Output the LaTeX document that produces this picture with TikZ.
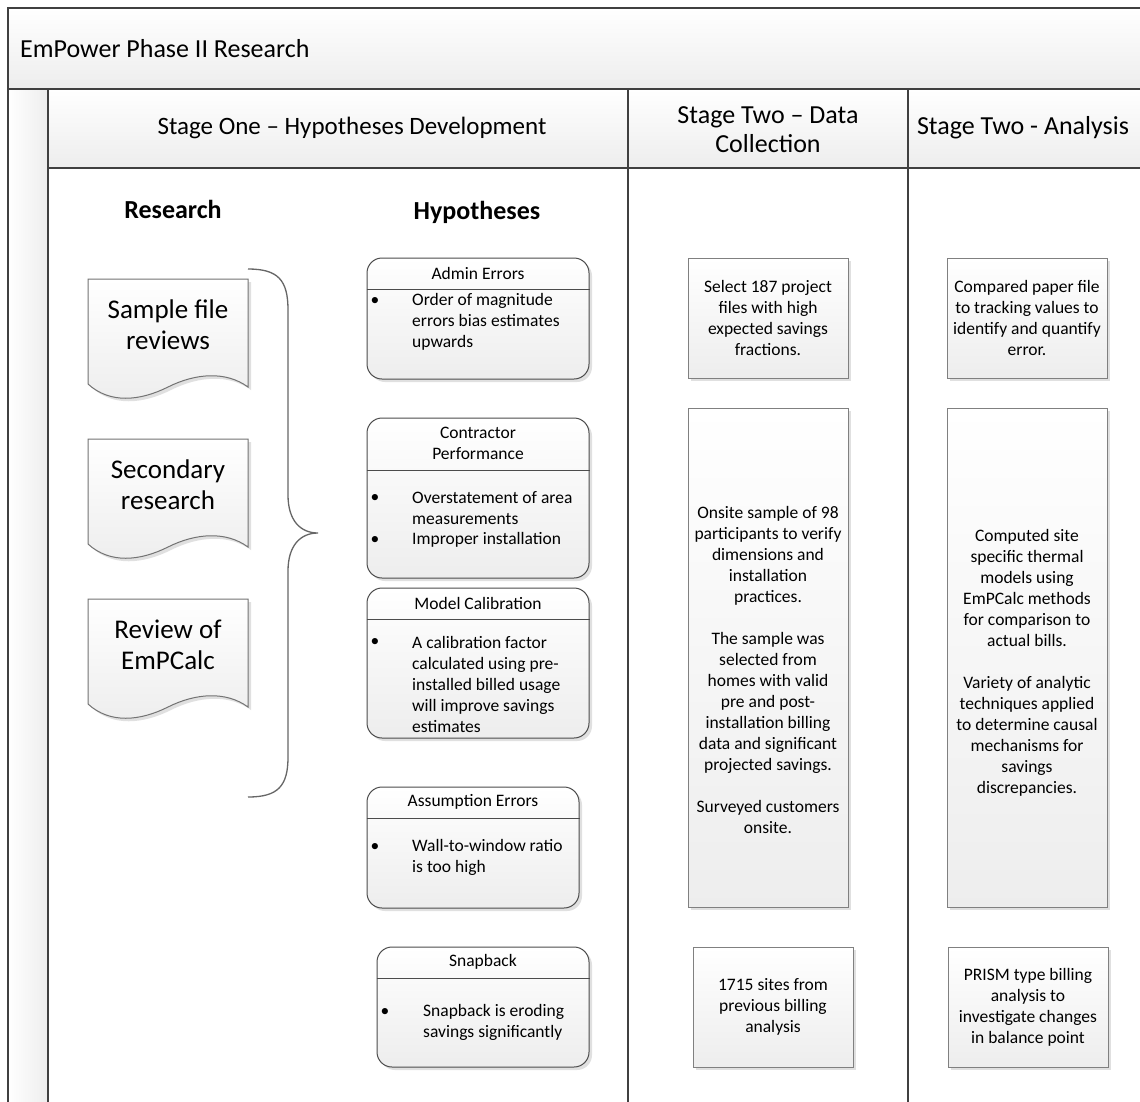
\documentclass[tikz,border=0pt]{standalone}
\usepackage{fontspec}
\setmainfont{Carlito}
\usetikzlibrary{shadows}

\tikzset{
  lane/.style={draw=black!75, line width=2pt},
  band/.style={top color=white, bottom color=gray!14},
  txt/.style={font=\fontsize{17.5}{21}\selectfont, inner sep=0pt, align=center},
  head/.style={font=\fontsize{26}{29}\selectfont, inner sep=0pt, align=center},
  doctxt/.style={font=\fontsize{27}{31}\selectfont, inner sep=0pt, align=center},
  colhead/.style={font=\fontsize{26}{30}\selectfont\bfseries, inner sep=0pt},
  stagebox/.style={draw=black!50, line width=1pt, top color=white, bottom color=gray!14,
    drop shadow={shadow xshift=3pt, shadow yshift=-3pt, fill=black!30, opacity=0.4}},
  hypbox/.style={stagebox, draw=black!70, rounded corners=15pt},
  docbox/.style={stagebox, draw=black!55},
  sep/.style={draw=black!70, line width=1pt},
  curly/.style={draw=black!60, line width=1.3pt},
}

\begin{document}
\begin{tikzpicture}[x=1pt, y=-1pt]
        \useasboundingbox (0,0) rectangle (1140,1101);
        \clip (0,0) rectangle (1140,1101);
        \fill[white] (0,0) rectangle (1140,1101);

        \fill[band] (8,8) rectangle (1160,89);
        \fill[left color=white, right color=gray!14] (8,89) rectangle (48,1120);
        \fill[band] (48,89) rectangle (1160,168);

        \draw[lane] (8,1120) -- (8,8) -- (1160,8);
        \draw[lane] (8,89) -- (1160,89);
        \draw[lane] (48,89) -- (48,1120);
        \draw[lane] (48,168) -- (1160,168);
        \draw[lane] (628,89) -- (628,1120);
        \draw[lane] (908,89) -- (908,1120);

        \node[head, anchor=west] (title) at (20,49) {EmPower Phase II Research};
        \node[head, font=\fontsize{25}{29}\selectfont] (stageone) at (352,128) {Stage One – Hypotheses Development};
        \node[head] (stagedata) at (768,130) {Stage Two – Data\\Collection};
        \node[head] (stageana) at (1023,128) {Stage Two - Analysis};

        \node[colhead] (research) at (173,209) {Research};
        \node[colhead] (hypo) at (477,212) {Hypotheses};

        \foreach \y/\nm/\txt in {279/doca/{Sample file\\reviews}, 439/docb/{Secondary\\research}, 599/docc/{Review of\\EmPCalc}} {
            \draw[docbox] (88,\y) -- (248,\y) -- (248,\y+108) .. controls (226,\y+92) and (196,\y+94) .. (168,\y+108) .. controls (140,\y+122) and (110,\y+125) .. (88,\y+105) -- cycle;
            \node[doctxt] (\nm) at (168,\y+46) {\txt};
        }

        \draw[curly] (248,269) .. controls (278,269) and (288,280) .. (288,310) -- (288,495) .. controls (288,520) and (300,533) .. (318,533) .. controls (300,533) and (288,546) .. (288,571) -- (288,757) .. controls (288,786) and (278,797) .. (248,797);

        \node[hypbox, minimum width=222pt, minimum height=121pt] (admin) at (478,318.5) {};
        \draw[sep] (admin.west |- 0,289) -- (admin.east |- 0,289);
        \node[txt] (admint) at (478,273) {Admin Errors};
        \node[txt] (adminb) at (375,301) {\textbullet};
        \node[txt, anchor=west, align=left] (admini) at (412,322) {Order of magnitude\\errors bias estimates\\upwards};

        \node[hypbox, minimum width=222pt, minimum height=160pt] (contr) at (478,498) {};
        \draw[sep] (contr.west |- 0,470) -- (contr.east |- 0,470);
        \node[txt] (contrt) at (478,443.5) {Contractor\\Performance};
        \node[txt] (contrb1) at (375,498) {\textbullet};
        \node[txt, anchor=west, align=left] (contri1) at (412,508.5) {Overstatement of area\\measurements};
        \node[txt] (contrb2) at (375,540) {\textbullet};
        \node[txt, anchor=west, align=left] (contri2) at (412,540) {Improper installation};

        \node[hypbox, minimum width=222pt, minimum height=150pt] (model) at (478,663) {};
        \draw[sep] (model.west |- 0,619) -- (model.east |- 0,619);
        \node[txt] (modelt) at (478,603) {Model Calibration};
        \node[txt] (modelb) at (375,642) {\textbullet};
        \node[txt, anchor=west, align=left] (modeli) at (412,684) {A calibration factor\\calculated using pre-\\installed billed usage\\will improve savings\\estimates};

        \node[hypbox, minimum width=212pt, minimum height=121pt] (assum) at (473,847.5) {};
        \draw[sep] (assum.west |- 0,818) -- (assum.east |- 0,818);
        \node[txt] (assumt) at (473,802) {Assumption Errors};
        \node[txt] (assumb) at (375,847) {\textbullet};
        \node[txt, anchor=west, align=left] (assumi) at (412,857.5) {Wall-to-window ratio\\is too high};

        \node[hypbox, minimum width=212pt, minimum height=120pt] (snap) at (483,1007) {};
        \draw[sep] (snap.west |- 0,978) -- (snap.east |- 0,978);
        \node[txt] (snapt) at (483,962) {Snapback};
        \node[txt] (snapb) at (385,1012) {\textbullet};
        \node[txt, anchor=west, align=left] (snapi) at (423,1022.5) {Snapback is eroding\\savings significantly};

        \node[stagebox, txt, minimum width=160pt, minimum height=120pt] (select) at (768,318) {Select 187 project\\files with high\\expected savings\\fractions.};
        \node[stagebox, minimum width=160pt, minimum height=499pt] (onsite) at (768,657.5) {};
        \node[txt] (onsitet) at (768,670) {Onsite sample of 98\\participants to verify\\dimensions and\\installation\\practices.\\[21pt]The sample was\\selected from\\homes with valid\\pre and post-\\installation billing\\data and significant\\projected savings.\\[21pt]Surveyed customers\\onsite.};
        \node[stagebox, txt, minimum width=160pt, minimum height=120pt] (sites) at (773,1007) {1715 sites from\\previous billing\\analysis};

        \node[stagebox, txt, minimum width=160pt, minimum height=120pt] (paper) at (1027,318) {Compared paper file\\to tracking values to\\identify and quantify\\error.};
        \node[stagebox, minimum width=160pt, minimum height=499pt] (thermal) at (1027,657.5) {};
        \node[txt] (thermalt) at (1027,663) {Computed site\\specific thermal\\models using\\EmPCalc methods\\for comparison to\\actual bills.\\[21pt]Variety of analytic\\techniques applied\\to determine causal\\mechanisms for\\savings\\discrepancies.};
        \node[stagebox, txt, minimum width=160pt, minimum height=120pt] (prism) at (1028,1007) {PRISM type billing\\analysis to\\investigate changes\\in balance point};

    \end{tikzpicture}
\end{document}
